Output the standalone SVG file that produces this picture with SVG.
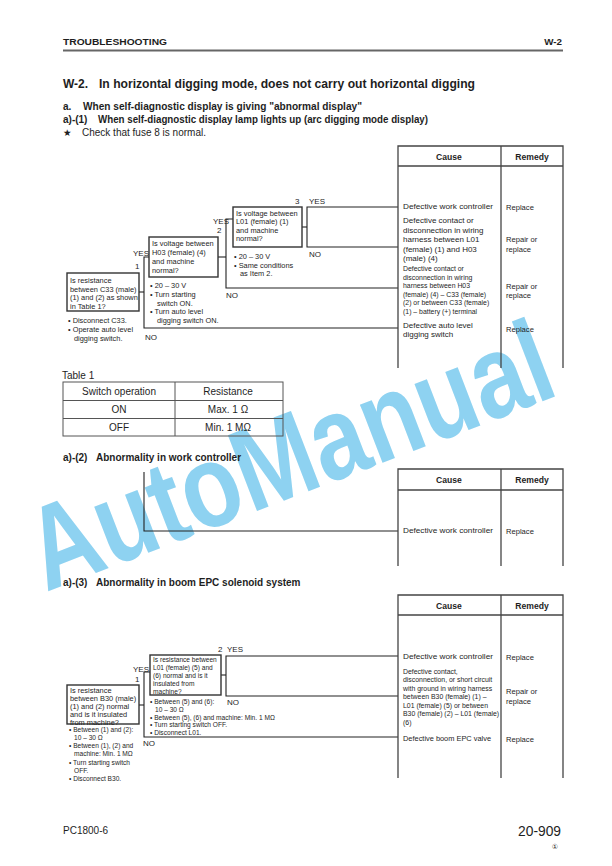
<svg xmlns="http://www.w3.org/2000/svg" width="612" height="866" viewBox="0 0 612 866">
<style>
text{font-family:"Liberation Sans",Arial,Helvetica,sans-serif;fill:#1e1e1e}
.b{font-weight:bold}
.h{font-size:9.8px;font-weight:bold}
.s{font-size:10px;font-weight:bold}
.bx{fill:none;stroke:#333;stroke-width:1.4}
.ln{fill:none;stroke:#222;stroke-width:1.1}
.tb{fill:none;stroke:#444;stroke-width:1.3}
.q{font-size:7.4px}
.qs{font-size:6.6px}
.lb{font-size:8px}
.c{font-size:8px}
.cs{font-size:6.9px}
.r{font-size:7.6px}
.th{font-size:8.6px;font-weight:bold;text-anchor:middle}
.m{text-anchor:middle}
.t1{font-size:10px}
.wm{font-family:"Liberation Sans",Arial,sans-serif;font-weight:bold;font-size:118px;fill:#63c1ec;opacity:0.72}
</style>
<rect width="612" height="866" fill="#fff"/>
<g id="watermark"><text class="wm" x="46" y="592" transform="rotate(-21 46 592)" textLength="552" lengthAdjust="spacingAndGlyphs">AutoManual</text></g>

<g id="header">
<text class="h" x="63" y="45" textLength="104" lengthAdjust="spacingAndGlyphs">TROUBLESHOOTING</text>
<text class="h" x="562" y="45" text-anchor="end">W-2</text>
<line x1="63" y1="50.5" x2="563" y2="50.5" stroke="#666" stroke-width="1.8"/>
<text class="b" x="63" y="88" font-size="12">W-2.</text>
<text class="b" x="99" y="88" font-size="12" textLength="376" lengthAdjust="spacingAndGlyphs">In horizontal digging mode, does not carry out horizontal digging</text>
<text class="s" x="63" y="110">a.</text>
<text class="s" x="83" y="110" textLength="279" lengthAdjust="spacingAndGlyphs">When self-diagnostic display is giving "abnormal display"</text>
<text class="s" x="63" y="123">a)-(1)</text>
<text class="s" x="98" y="123" textLength="330" lengthAdjust="spacingAndGlyphs">When self-diagnostic display lamp lights up (arc digging mode display)</text>
<text x="63" y="136" font-size="9.5" style="font-family:'DejaVu Sans',sans-serif">★</text>
<text x="82" y="136" font-size="10">Check that fuse 8 is normal.</text>
</g>

<g id="connectors">
<polyline class="ln" points="139,292 144,292"/>
<polyline class="ln" points="149,257 144,257 144,328 398,328"/>
<polyline class="ln" points="218,257 226,257"/>
<polyline class="ln" points="233,219 226,219 226,288 398,288"/>
<polyline class="ln" points="302,227 307,227"/>
<polyline class="ln" points="398,207 307,207 307,247 398,247"/>
<polyline class="ln" points="144,472 144,531 398,531"/>
<polyline class="ln" points="139,705 144,705"/>
<polyline class="ln" points="150,672 144,672 144,737 398,737"/>
<polyline class="ln" points="221,675 226,675"/>
<polyline class="ln" points="398,656 226,656 226,696 398,696"/>
</g>

<g id="chart1-labels">
<text class="lb" x="133" y="256">YES</text>
<text class="lb" x="135" y="269">1</text>
<text class="lb" x="145" y="340">NO</text>
<text class="lb" x="213" y="224">YES</text>
<text class="lb" x="217" y="233">2</text>
<text class="lb" x="226" y="298">NO</text>
<text class="lb" x="295" y="204">3</text>
<text class="lb" x="309" y="204">YES</text>
<text class="lb" x="309" y="257">NO</text>
</g>

<g id="c1-box1">
<rect class="bx" x="67" y="273" width="72" height="38"/>
<text class="q" font-size="6.9" x="70" y="283">Is resistance</text>
<text class="q" font-size="6.9" x="70" y="291.5">between C33 (male)</text>
<text class="q" font-size="6.9" x="70" y="300">(1) and (2) as shown</text>
<text class="q" font-size="6.9" x="70" y="308.5">in Table 1?</text>
<text class="q" x="68" y="323">• Disconnect C33.</text>
<text class="q" x="68" y="332">• Operate auto level</text>
<text class="q" x="74" y="341">digging switch.</text>
</g>

<g id="c1-box2">
<rect class="bx" x="149" y="237" width="69" height="40"/>
<text class="q" x="152" y="246">Is voltage between</text>
<text class="q" x="152" y="255">H03 (female) (4)</text>
<text class="q" x="152" y="264">and machine</text>
<text class="q" x="152" y="272.5">normal?</text>
<text class="q" x="150" y="288">• 20 – 30 V</text>
<text class="q" x="150" y="297">• Turn starting</text>
<text class="q" x="157" y="305.5">switch ON.</text>
<text class="q" x="150" y="314">• Turn auto level</text>
<text class="q" x="157" y="322.5">digging switch ON.</text>
</g>

<g id="c1-box3">
<rect class="bx" x="233" y="207" width="69" height="40"/>
<text class="q" x="236" y="215.5">Is voltage between</text>
<text class="q" x="236" y="224">L01 (female) (1)</text>
<text class="q" x="236" y="232.5">and machine</text>
<text class="q" x="236" y="241">normal?</text>
<text class="q" x="234" y="259">• 20 – 30 V</text>
<text class="q" x="234" y="267.5">• Same conditions</text>
<text class="q" x="240" y="276">as Item 2.</text>
</g>

<g id="c1-table">
<polyline class="tb" points="398,368 398,146 563,146 563,368"/>
<line class="tb" x1="398" y1="166" x2="563" y2="166"/>
<line class="tb" x1="501" y1="146" x2="501" y2="368"/>
<text class="th" x="449" y="160">Cause</text>
<text class="th" x="532" y="160">Remedy</text>
<text class="c" x="403" y="209" textLength="90" lengthAdjust="spacingAndGlyphs">Defective work controller</text>
<text class="r" x="506" y="210">Replace</text>
<text class="c" x="403" y="223">Defective contact or</text>
<text class="c" x="403" y="232.5">disconnection in wiring</text>
<text class="c" x="403" y="242">harness between L01</text>
<text class="c" x="403" y="251.5">(female) (1) and H03</text>
<text class="c" x="403" y="261">(male) (4)</text>
<text class="r" x="506" y="242">Repair or</text>
<text class="r" x="506" y="251.5">replace</text>
<text class="cs" x="403" y="271">Defective contact or</text>
<text class="cs" x="403" y="279.5">disconnection in wiring</text>
<text class="cs" x="403" y="288">harness between H03</text>
<text class="cs" x="403" y="296.5">(female) (4) – C33 (female)</text>
<text class="cs" x="403" y="305">(2) or between C33 (female)</text>
<text class="cs" x="403" y="313.5">(1) – battery (+) terminal</text>
<text class="r" x="506" y="289">Repair or</text>
<text class="r" x="506" y="298">replace</text>
<text class="c" x="403" y="327.5">Defective auto level</text>
<text class="c" x="403" y="337">digging switch</text>
<text class="r" x="506" y="332">Replace</text>
</g>

<g id="table1">
<text class="t1" x="62" y="379">Table 1</text>
<rect fill="none" stroke="#555" stroke-width="1" x="63" y="382" width="220" height="54"/>
<line x1="63" y1="400.5" x2="283" y2="400.5" stroke="#555" stroke-width="1"/>
<line x1="63" y1="418.5" x2="283" y2="418.5" stroke="#555" stroke-width="1"/>
<line x1="175" y1="382" x2="175" y2="436" stroke="#555" stroke-width="1"/>
<text class="m t1" x="119" y="395">Switch operation</text>
<text class="m t1" x="228" y="395">Resistance</text>
<text class="m t1" x="119" y="413">ON</text>
<text class="m t1" x="228" y="413">Max. 1 Ω</text>
<text class="m t1" x="119" y="431">OFF</text>
<text class="m t1" x="228" y="431">Min. 1 MΩ</text>
</g>

<g id="section2">
<text class="s" x="63" y="461">a)-(2)</text>
<text class="s" x="96" y="461">Abnormality in work controller</text>
<polyline class="tb" points="398,566 398,469 563,469 563,566"/>
<line class="tb" x1="398" y1="490" x2="563" y2="490"/>
<line class="tb" x1="501" y1="469" x2="501" y2="566"/>
<text class="th" x="449" y="483">Cause</text>
<text class="th" x="532" y="483">Remedy</text>
<text class="c" x="403" y="533" textLength="90" lengthAdjust="spacingAndGlyphs">Defective work controller</text>
<text class="r" x="506" y="534">Replace</text>
</g>

<g id="section3-title">
<text class="s" x="63" y="586">a)-(3)</text>
<text class="s" x="96" y="586">Abnormality in boom EPC solenoid system</text>
</g>

<g id="chart3-labels">
<text class="lb" x="133" y="672">YES</text>
<text class="lb" x="135" y="682">1</text>
<text class="lb" x="143" y="746">NO</text>
<text class="lb" x="218" y="652">2</text>
<text class="lb" x="227" y="652">YES</text>
<text class="lb" x="227" y="705">NO</text>
</g>

<g id="c3-box1">
<rect class="bx" x="67" y="685" width="72" height="39"/>
<text class="q" font-size="6.9" x="70" y="692.5">Is resistance</text>
<text class="q" font-size="6.9" x="70" y="700.5">between B30 (male)</text>
<text class="q" font-size="6.9" x="70" y="708.5">(1) and (2) normal</text>
<text class="q" font-size="6.9" x="70" y="716.5">and is it insulated</text>
<text class="q" font-size="6.9" x="70" y="724.5">from machine?</text>
<text class="qs" x="69" y="731.5">• Between (1) and (2):</text>
<text class="qs" x="74" y="739.5">10 – 30 Ω</text>
<text class="qs" x="69" y="748">• Between (1), (2) and</text>
<text class="qs" x="74" y="756">machine: Min. 1 MΩ</text>
<text class="qs" x="69" y="764.5">• Turn starting switch</text>
<text class="qs" x="74" y="772.5">OFF.</text>
<text class="qs" x="69" y="781">• Disconnect B30.</text>
</g>

<g id="c3-box2">
<rect class="bx" x="150" y="655" width="71" height="40"/>
<text class="qs" font-size="6.3" x="153" y="662">Is resistance between</text>
<text class="qs" font-size="6.3" x="153" y="670">L01 (female) (5) and</text>
<text class="qs" font-size="6.3" x="153" y="678">(6) normal and is it</text>
<text class="qs" font-size="6.3" x="153" y="686">insulated from</text>
<text class="qs" font-size="6.3" x="153" y="694">machine?</text>
<text class="qs" font-size="6.9" x="150" y="704">• Between (5) and (6):</text>
<text class="qs" font-size="6.9" x="155" y="711.5">10 – 30 Ω</text>
<text class="qs" font-size="6.9" x="150" y="719.5">• Between (5), (6) and machine: Min. 1 MΩ</text>
<text class="qs" font-size="6.9" x="150" y="727">• Turn starting switch OFF.</text>
<text class="qs" font-size="6.9" x="150" y="734.5">• Disconnect L01.</text>
</g>

<g id="c3-table">
<polyline class="tb" points="398,778 398,595 563,595 563,778"/>
<line class="tb" x1="398" y1="615" x2="563" y2="615"/>
<line class="tb" x1="501" y1="595" x2="501" y2="778"/>
<text class="th" x="449" y="609">Cause</text>
<text class="th" x="532" y="609">Remedy</text>
<text class="c" x="403" y="659" textLength="90" lengthAdjust="spacingAndGlyphs">Defective work controller</text>
<text class="r" x="506" y="660">Replace</text>
<text class="cs" x="403" y="673.5">Defective contact,</text>
<text class="cs" x="403" y="682">disconnection, or short circuit</text>
<text class="cs" x="403" y="690.5">with ground in wiring harness</text>
<text class="cs" x="403" y="699">between B30 (female) (1) –</text>
<text class="cs" x="403" y="707.5">L01 (female) (5) or between</text>
<text class="cs" x="403" y="716">B30 (female) (2) – L01 (female)</text>
<text class="cs" x="403" y="724.5">(6)</text>
<text class="r" x="506" y="694">Repair or</text>
<text class="r" x="506" y="703.5">replace</text>
<text class="c" x="403" y="740.5" textLength="88" lengthAdjust="spacingAndGlyphs">Defective boom EPC valve</text>
<text class="r" x="506" y="741.5">Replace</text>
</g>

<g id="footer">
<text x="63" y="834" font-size="10">PC1800-6</text>
<text x="561" y="836" font-size="13.8" text-anchor="end">20-909</text>
<text x="555" y="849" font-size="7" text-anchor="middle" fill="#888" style="font-family:'DejaVu Sans',sans-serif">①</text>
</g>
</svg>
